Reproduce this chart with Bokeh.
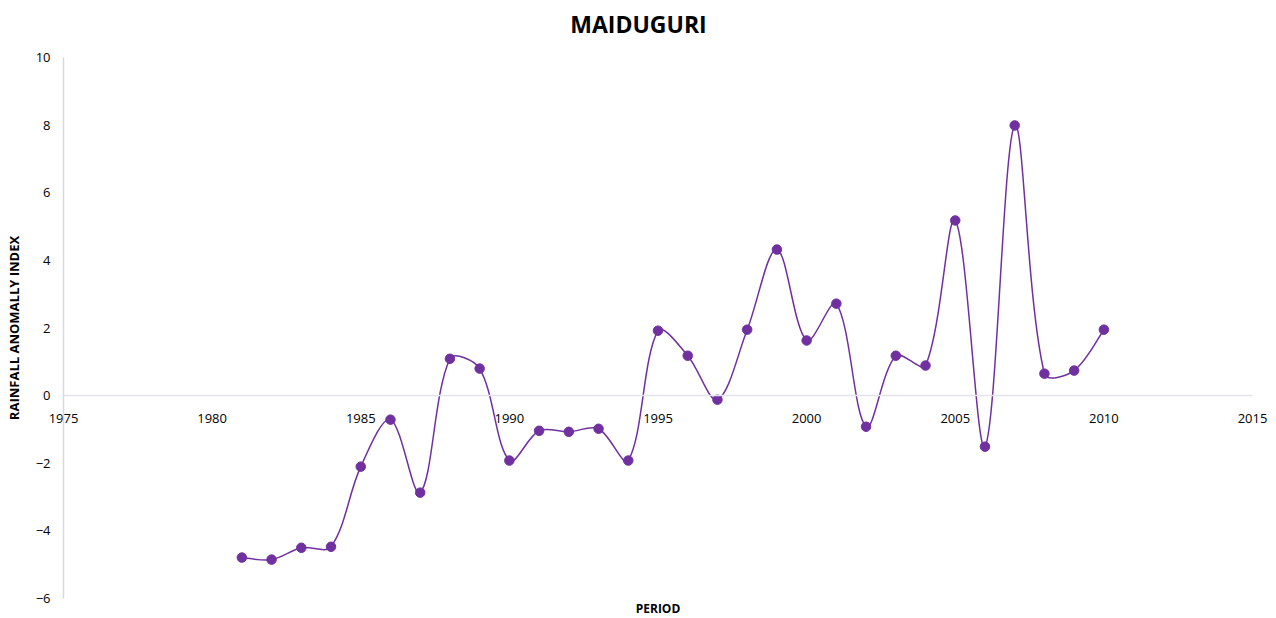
import math
from bokeh.plotting import figure
from bokeh.models import (Range1d, FixedTicker, ColumnDataSource,
                          LinearAxis, Label)
from bokeh.embed import file_html
from bokeh.resources import INLINE

years = [1981, 1982, 1983, 1984, 1985, 1986, 1987, 1988, 1989, 1990,
         1991, 1992, 1993, 1994, 1995, 1996, 1997, 1998, 1999, 2000,
         2001, 2002, 2003, 2004, 2005, 2006, 2007, 2008, 2009, 2010]
rai = [-4.79, -4.85, -4.50, -4.47, -2.10, -0.71, -2.87, 1.09, 0.80, -1.92,
       -1.04, -1.07, -0.98, -1.92, 1.92, 1.18, -0.12, 1.95, 4.32, 1.63,
       2.72, -0.92, 1.18, 0.89, 5.18, -1.51, 7.99, 0.65, 0.74, 1.95]
x_ticks = [1975, 1980, 1985, 1990, 1995, 2000, 2005, 2010, 2015]
y_ticks = [-6, -4, -2, 0, 2, 4, 6, 8, 10]

PURPLE = "#7030A0"
FONT = "Open Sans"

# Canvas and plot-area geometry (pixels)
W, H = 1276, 618
PL, PR, PT, PB = 63, 1252, 57, 598       # plot area edges inside canvas
X0, X1, Y0, Y1 = x_ticks[0], x_ticks[-1], y_ticks[0], y_ticks[-1]
SX = (PR - PL) / (X1 - X0)               # px per year
SY = (PB - PT) / (Y1 - Y0)               # px per unit
xr = Range1d(X0 - PL / SX, X1 + (W - PR) / SX)
yr = Range1d(Y0 - (H - PB) / SY, Y1 + PT / SY)
X_CANVAS_MID = X0 + (W / 2 - PL) / SX

# Excel-style smoothed line: cubic Bezier segments, control points scaled
# by neighbouring segment lengths (measured in screen space)
n = len(years)
P = [(years[i] * SX, rai[i] * SY) for i in range(n)]


def dist(a, b):
    return math.hypot(a[0] - b[0], a[1] - b[1])


x0, y0, x1, y1, cx0, cy0, cx1, cy1 = [], [], [], [], [], [], [], []
for i in range(n - 1):
    p0 = P[i - 1] if i > 0 else P[i]
    p1 = P[i]
    p2 = P[i + 1]
    p3 = P[i + 2] if i + 2 < n else P[i + 1]
    d01, d12, d23 = dist(p0, p1), dist(p1, p2), dist(p2, p3)
    f1 = d12 / (d01 + d12) / 3.0 if (d01 + d12) > 0 else 0
    f2 = d12 / (d12 + d23) / 3.0 if (d12 + d23) > 0 else 0
    if i == 0:
        f1 = 1 / 6.0
    if i + 2 >= n:
        f2 = 1 / 6.0
    c1 = (p1[0] + (p2[0] - p0[0]) * f1, p1[1] + (p2[1] - p0[1]) * f1)
    c2 = (p2[0] - (p3[0] - p1[0]) * f2, p2[1] - (p3[1] - p1[1]) * f2)
    x0.append(years[i]); y0.append(rai[i])
    x1.append(years[i + 1]); y1.append(rai[i + 1])
    cx0.append(c1[0] / SX); cy0.append(c1[1] / SY)
    cx1.append(c2[0] / SX); cy1.append(c2[1] / SY)

bez = ColumnDataSource(dict(x0=x0, y0=y0, x1=x1, y1=y1,
                            cx0=cx0, cy0=cy0, cx1=cx1, cy1=cy1))
pts = ColumnDataSource(dict(x=years, y=rai))

p = figure(frame_width=W, frame_height=H, output_backend="svg",
           toolbar_location=None, x_axis_location=None, y_axis_location=None,
           x_range=xr, y_range=yr,
           min_border_left=0, min_border_right=0, min_border_top=0,
           min_border_bottom=0)
p.outline_line_color = None
p.grid.visible = False
p.background_fill_color = "white"
p.border_fill_color = "white"

p.bezier(x0="x0", y0="y0", x1="x1", y1="y1", cx0="cx0", cy0="cy0",
         cx1="cx1", cy1="cy1", source=bez, line_color=PURPLE, line_width=1.5)
p.scatter("x", "y", source=pts, size=9.5, fill_color=PURPLE,
          line_color=PURPLE)

xa = LinearAxis(fixed_location=0, ticker=FixedTicker(ticks=x_ticks),
                bounds=(X0, X1))
xa.axis_line_color = "#E4E4EC"
xa.axis_line_width = 1.5
xa.major_tick_line_color = None
xa.minor_tick_line_color = None
xa.major_tick_out = 0
xa.major_tick_in = 0
xa.major_label_text_font = FONT
xa.major_label_text_font_size = "13px"
xa.major_label_text_color = "#000000"
xa.major_label_standoff = 18
p.add_layout(xa, "below")

ya = LinearAxis(fixed_location=X0, ticker=FixedTicker(ticks=y_ticks),
                bounds=(Y0, Y1))
ya.axis_line_color = "#D3DAE6"
ya.axis_line_width = 1.5
ya.major_tick_line_color = None
ya.minor_tick_line_color = None
ya.major_tick_out = 0
ya.major_tick_in = 0
ya.major_label_text_font = FONT
ya.major_label_text_font_size = "13px"
ya.major_label_text_color = "#000000"
ya.major_label_standoff = 13
ya.axis_label = "RAINFALL ANOMALLY INDEX"
ya.axis_label_text_font = FONT
ya.axis_label_text_font_size = "13px"
ya.axis_label_text_font_style = "bold"
ya.axis_label_text_color = "#000000"
ya.axis_label_standoff = 10
p.add_layout(ya, "left")

title = Label(x=X_CANVAS_MID, y=Y1, y_offset=PT - 23, text="MAIDUGURI",
              text_align="center", text_baseline="middle", text_font=FONT,
              text_font_size="23px", text_font_style="bold",
              text_color="#000000")
p.add_layout(title)

xtitle = Label(x=(X0 + X1) / 2, y=Y0, y_offset=-10, text="PERIOD",
               text_align="center", text_baseline="middle", text_font=FONT,
               text_font_size="12px", text_font_style="bold",
               text_color="#000000")
p.add_layout(xtitle)

open("out.html", "w").write(file_html(p, INLINE))
